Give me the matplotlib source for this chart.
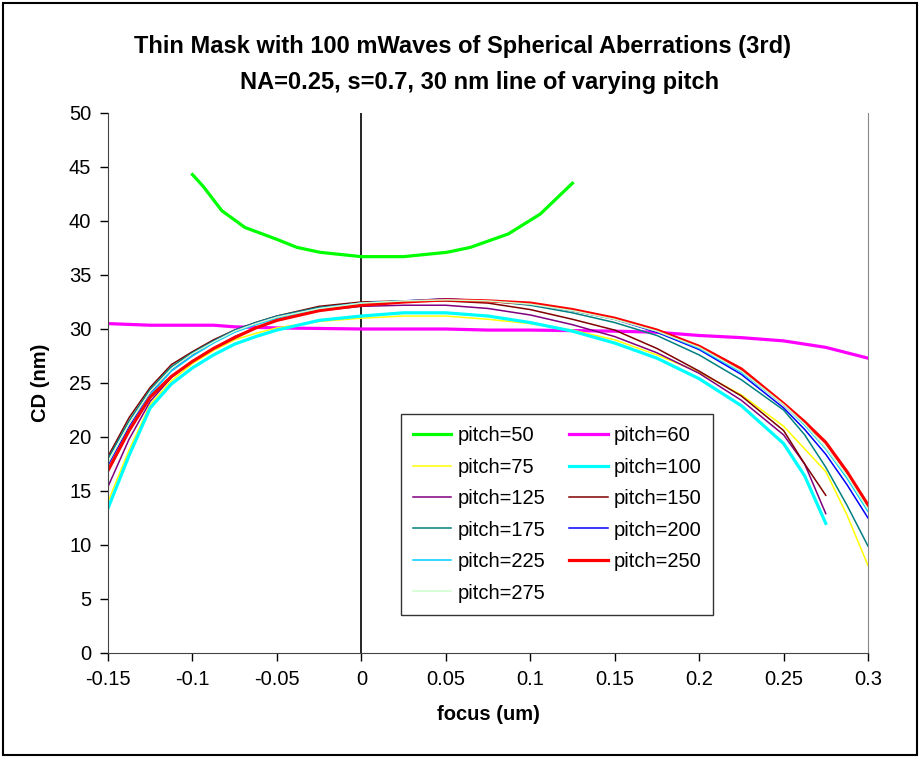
import matplotlib.pyplot as plt
from matplotlib.patches import Rectangle

plt.rcParams['font.family'] = ['Liberation Sans', 'DejaVu Sans']

# focus grid (um)
x = [-0.15, -0.1375, -0.125, -0.1125, -0.1, -0.0875, -0.075, -0.0625, -0.05, -0.025,
     0, 0.025, 0.05, 0.075, 0.1, 0.125, 0.15, 0.175, 0.2, 0.225, 0.25, 0.2625, 0.275,
     0.2875, 0.3]
x_short = x[:23]

x_50 = [-0.1, -0.0936, -0.0826, -0.0689, -0.05, -0.0382, -0.0244, 0, 0.025, 0.0506,
        0.0644, 0.087, 0.106, 0.125]
cd_50 = [44.3, 43.2, 40.95, 39.4, 38.3, 37.56, 37.1, 36.7, 36.7, 37.1,
         37.55, 38.8, 40.65, 43.5]

x_60 = [-0.15, -0.125, -0.1, -0.0875, -0.075, -0.05, -0.025, 0, 0.025, 0.05, 0.075,
        0.1, 0.125, 0.15, 0.175, 0.2, 0.225, 0.25, 0.275, 0.3]
cd_60 = [30.5, 30.35, 30.35, 30.35, 30.2, 30.1, 30.05, 30.0, 30.0, 30.0, 29.9,
         29.9, 29.85, 29.8, 29.7, 29.4, 29.2, 28.9, 28.3, 27.3]

cd_75 = [14.0, 18.8, 23.0, 25.2, 26.8, 28.0, 29.0, 29.6, 30.1, 30.7, 31.0, 31.2, 31.2,
         30.9, 30.5, 29.9, 29.0, 27.6, 26.0, 23.9, 21.0, 18.9, 16.8, 12.8, 8.1]
cd_100 = [13.4, 18.3, 22.7, 24.9, 26.4, 27.6, 28.6, 29.3, 29.9, 30.8, 31.2, 31.5, 31.5,
          31.2, 30.6, 29.8, 28.7, 27.3, 25.4, 22.9, 19.4, 16.4, 12.0]
cd_125 = [15.4, 19.8, 23.3, 25.5, 27.0, 28.2, 29.3, 30.1, 30.8, 31.7, 32.1, 32.2, 32.2,
          31.9, 31.3, 30.4, 29.3, 27.8, 25.9, 23.4, 20.2, 17.5, 12.9]
cd_150 = [18.2, 21.8, 24.6, 26.7, 27.9, 29.0, 29.9, 30.6, 31.2, 32.1, 32.5, 32.6, 32.6,
          32.4, 31.8, 30.9, 29.9, 28.2, 26.1, 23.8, 20.6, 17.5, 14.6]
cd_175 = [18.0, 21.5, 24.4, 26.5, 27.8, 28.9, 29.9, 30.6, 31.2, 32.0, 32.4, 32.6, 32.7,
          32.6, 32.2, 31.5, 30.6, 29.4, 27.6, 25.3, 22.5, 20.2, 17.2, 13.7, 9.9]
cd_200 = [17.4, 21.0, 24.1, 26.2, 27.6, 28.8, 29.8, 30.5, 31.1, 31.9, 32.4, 32.6, 32.8,
          32.6, 32.3, 31.7, 30.9, 29.7, 28.1, 25.8, 22.7, 20.7, 18.4, 15.6, 12.5]
cd_225 = [16.8, 20.6, 23.9, 26.1, 27.5, 28.7, 29.7, 30.4, 31.0, 31.9, 32.4, 32.6, 32.7,
          32.6, 32.3, 31.7, 30.9, 29.8, 28.2, 26.0, 23.0, 21.1, 18.9, 16.2, 13.1]
cd_250 = [16.9, 20.6, 23.7, 25.6, 27.0, 28.2, 29.2, 30.1, 30.8, 31.7, 32.2, 32.5, 32.7,
          32.6, 32.4, 31.8, 31.0, 29.9, 28.4, 26.3, 23.1, 21.4, 19.5, 16.8, 13.7]
cd_275 = [17.6, 21.2, 24.2, 26.3, 27.7, 28.8, 29.8, 30.5, 31.1, 31.9, 32.4, 32.6, 32.7,
          32.6, 32.3, 31.7, 30.9, 29.8, 28.3, 26.1, 23.0, 21.2, 19.0, 16.4, 13.3]

fig = plt.figure(figsize=(9.2, 7.58), dpi=100)
ax = fig.add_axes([108/920, 1-653/758, 760/920, 540/758])

thick = 2.3
thin = 1.1
h = {}
h[50], = ax.plot(x_50, cd_50, color='#00FF00', lw=thick, label='pitch=50')
h[60], = ax.plot(x_60, cd_60, color='#FF00FF', lw=thick, label='pitch=60')
h[75], = ax.plot(x, cd_75, color='#FFFF00', lw=thin, label='pitch=75')
h[100], = ax.plot(x_short, cd_100, color='#00FFFF', lw=thick, label='pitch=100')
h[125], = ax.plot(x_short, cd_125, color='#800080', lw=thin, label='pitch=125')
h[150], = ax.plot(x_short, cd_150, color='#800000', lw=thin, label='pitch=150')
h[175], = ax.plot(x, cd_175, color='#008080', lw=thin, label='pitch=175')
h[200], = ax.plot(x, cd_200, color='#0000FF', lw=thin, label='pitch=200')
h[225], = ax.plot(x, cd_225, color='#00CCFF', lw=thin, label='pitch=225')
h[250], = ax.plot(x, cd_250, color='#FF0000', lw=thick, label='pitch=250')
h[275], = ax.plot(x, cd_275, color='#CCFFCC', lw=thin, label='pitch=275')

ax.axvline(0, color='black', lw=1.2, zorder=1)

ax.set_xlim(-0.15, 0.3)
ax.set_ylim(0, 50)
ax.set_xticks([-0.15, -0.1, -0.05, 0, 0.05, 0.1, 0.15, 0.2, 0.25, 0.3])
ax.set_xticklabels(['-0.15', '-0.1', '-0.05', '0', '0.05', '0.1', '0.15', '0.2', '0.25', '0.3'])
ax.set_yticks(range(0, 51, 5))
ax.tick_params(labelsize=14.5, length=6, width=1, color='black', pad=6)
ax.spines['top'].set_visible(False)
ax.spines['right'].set_color('#888888')
ax.spines['left'].set_color('#444444')
ax.spines['bottom'].set_color('#444444')

ax.set_xlabel('focus (um)', fontsize=14.5, fontweight='bold', labelpad=12)
ax.set_ylabel('CD (nm)', fontsize=14.5, fontweight='bold', labelpad=14)

fig.text(463/920, 1-47/758, 'Thin Mask with 100 mWaves of Spherical Aberrations (3rd)',
         ha='center', va='center', fontsize=17, fontweight='bold')
fig.text(480/920, 1-82/758, 'NA=0.25, s=0.7, 30 nm line of varying pitch',
         ha='center', va='center', fontsize=17, fontweight='bold')

order = [50, 75, 125, 175, 225, 275, 60, 100, 150, 200, 250]
leg = ax.legend([h[k] for k in order], ['pitch=%d' % k for k in order],
                ncol=2, loc='upper left', bbox_to_anchor=(401/920, 1-414/758),
                bbox_transform=fig.transFigure, borderaxespad=0, fontsize=14.5,
                frameon=True, fancybox=False, edgecolor='black', handlelength=1.9,
                handletextpad=0.3, labelspacing=0.62, columnspacing=1.2, borderpad=0.6)
leg.get_frame().set_linewidth(1.0)

fig.patches.append(Rectangle((3/920, 3/758), 914/920, 752/758, transform=fig.transFigure,
                             fill=False, edgecolor='black', lw=1.5))

fig.savefig('out.png', dpi=100)
